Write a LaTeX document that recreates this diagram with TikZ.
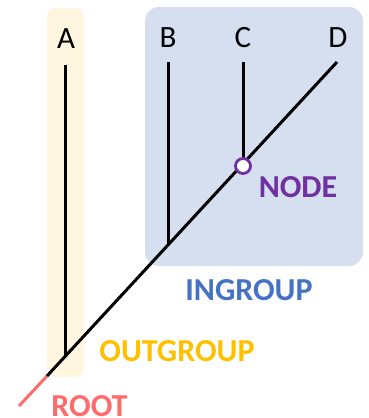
\documentclass[tikz,border=0pt]{standalone}
\usepackage{fontspec}
\setmainfont{Carlito}
\definecolor{yelbox}{HTML}{FFF6E0}
\definecolor{blubox}{HTML}{D5DFF0}
\definecolor{outc}{HTML}{FFC000}
\definecolor{inc}{HTML}{4472C4}
\definecolor{nodec}{HTML}{7030A0}
\definecolor{rootc}{HTML}{FF6B6B}
\tikzset{
  branch/.style={line width=3pt, black},
  taxon/.style={font=\fontsize{31}{32}\selectfont, inner sep=0pt, anchor=base},
  grouplab/.style={font=\fontsize{32}{33}\selectfont\bfseries, inner sep=0pt, anchor=base},
}
\begin{document}
\begin{tikzpicture}[x=1pt,y=-1pt]
\useasboundingbox (0,0) rectangle (369,418);
\fill[yelbox, rounded corners=9pt] (47,8) rectangle (84,377);
\fill[blubox, rounded corners=14pt] (145,7) rectangle (363,266);
\node[taxon] (A) at (66,48) {A};
\node[taxon] (B) at (168,47) {B};
\node[taxon] (C) at (243,47) {C};
\node[taxon] (D) at (338,47) {D};
\coordinate (Atip) at (65,65);
\coordinate (Btip) at (168,62);
\coordinate (Ctip) at (243,62);
\coordinate (Dtip) at (337,62);
\coordinate (jA) at (65,356.6);
\coordinate (jB) at (168,244.9);
\coordinate (jC) at (243,163.8);
\coordinate (base) at (47,376);
\coordinate (rootend) at (19,406);
\draw[rootc, line width=3pt] (base) -- (rootend);
\draw[branch] (Dtip) -- (base);
\draw[branch] (Atip) -- (jA);
\draw[branch] (Btip) -- (jB);
\draw[branch] (Ctip) -- (jC);
\node[circle, draw=nodec, fill=white, line width=2.8pt, minimum size=15pt, inner sep=0pt] (N) at (243,166) {};
\node[grouplab, text=nodec] (nodelab) at (298,197) {NODE};
\node[grouplab, text=inc] (inlab) at (249,300) {INGROUP};
\node[grouplab, text=outc] (outlab) at (177,361) {OUTGROUP};
\node[grouplab, text=rootc] (rootlab) at (89.5,416) {ROOT};
\end{tikzpicture}
\end{document}
